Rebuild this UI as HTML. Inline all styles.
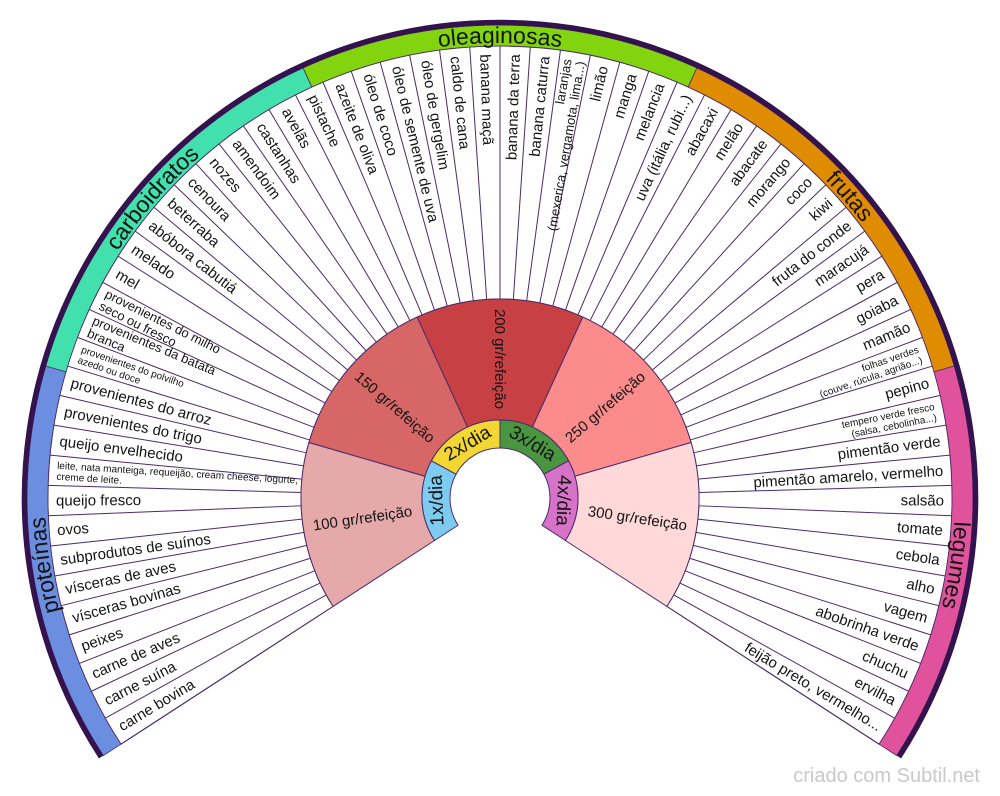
<!DOCTYPE html>
<html><head><meta charset="utf-8"><style>
html,body{margin:0;padding:0;background:#fff;}
svg{display:block;}
text{font-family:"Liberation Sans",Arial,sans-serif;fill:#141414;}
.it{font-size:15px;}
.s13{font-size:13px;}
.s10{font-size:10px;}
.gr{font-size:15px;}
.xd{font-size:19px;}
.cat{font-size:23px;}
.ln line{stroke:#4b2a6b;stroke-width:1;}
</style></head><body>
<svg width="1000" height="796" viewBox="0 0 1000 796" xmlns="http://www.w3.org/2000/svg">
<defs>
<path id="carc" d="M310.59,84.30 A455,455 0 0 1 689.41,84.30"/>
</defs>

<!-- item ring -->
<path d="M333.11,606.38 L120.92,744.18 A452,452 0 1 1 879.08,744.18 L666.89,606.38 A199,199 0 1 0 333.11,606.38 Z" fill="#fff" stroke="#4b2a6b" stroke-width="1"/>

<g class="ln">
<line x1="500" y1="299" x2="500" y2="46" transform="rotate(-123 500 498)"/>
<line x1="500" y1="299" x2="500" y2="46" transform="rotate(-119.15625 500 498)"/>
<line x1="500" y1="299" x2="500" y2="46" transform="rotate(-115.3125 500 498)"/>
<line x1="500" y1="299" x2="500" y2="46" transform="rotate(-111.46875 500 498)"/>
<line x1="500" y1="299" x2="500" y2="46" transform="rotate(-107.625 500 498)"/>
<line x1="500" y1="299" x2="500" y2="46" transform="rotate(-103.78125 500 498)"/>
<line x1="500" y1="299" x2="500" y2="46" transform="rotate(-99.9375 500 498)"/>
<line x1="500" y1="299" x2="500" y2="46" transform="rotate(-96.09375 500 498)"/>
<line x1="500" y1="299" x2="500" y2="46" transform="rotate(-92.25 500 498)"/>
<line x1="500" y1="299" x2="500" y2="46" transform="rotate(-88.40625 500 498)"/>
<line x1="500" y1="299" x2="500" y2="46" transform="rotate(-84.5625 500 498)"/>
<line x1="500" y1="299" x2="500" y2="46" transform="rotate(-80.71875 500 498)"/>
<line x1="500" y1="299" x2="500" y2="46" transform="rotate(-76.875 500 498)"/>
<line x1="500" y1="299" x2="500" y2="46" transform="rotate(-73.03125 500 498)"/>
<line x1="500" y1="299" x2="500" y2="46" transform="rotate(-69.1875 500 498)"/>
<line x1="500" y1="299" x2="500" y2="46" transform="rotate(-65.34375 500 498)"/>
<line x1="500" y1="299" x2="500" y2="46" transform="rotate(-61.5 500 498)"/>
<line x1="500" y1="299" x2="500" y2="46" transform="rotate(-57.65625 500 498)"/>
<line x1="500" y1="299" x2="500" y2="46" transform="rotate(-53.8125 500 498)"/>
<line x1="500" y1="299" x2="500" y2="46" transform="rotate(-49.96875 500 498)"/>
<line x1="500" y1="299" x2="500" y2="46" transform="rotate(-46.125 500 498)"/>
<line x1="500" y1="299" x2="500" y2="46" transform="rotate(-42.28125 500 498)"/>
<line x1="500" y1="299" x2="500" y2="46" transform="rotate(-38.4375 500 498)"/>
<line x1="500" y1="299" x2="500" y2="46" transform="rotate(-34.59375 500 498)"/>
<line x1="500" y1="299" x2="500" y2="46" transform="rotate(-30.75 500 498)"/>
<line x1="500" y1="299" x2="500" y2="46" transform="rotate(-26.90625 500 498)"/>
<line x1="500" y1="299" x2="500" y2="46" transform="rotate(-23.0625 500 498)"/>
<line x1="500" y1="299" x2="500" y2="46" transform="rotate(-19.21875 500 498)"/>
<line x1="500" y1="299" x2="500" y2="46" transform="rotate(-15.375 500 498)"/>
<line x1="500" y1="299" x2="500" y2="46" transform="rotate(-11.53125 500 498)"/>
<line x1="500" y1="299" x2="500" y2="46" transform="rotate(-7.6875 500 498)"/>
<line x1="500" y1="299" x2="500" y2="46" transform="rotate(-3.84375 500 498)"/>
<line x1="500" y1="299" x2="500" y2="46"/>
<line x1="500" y1="299" x2="500" y2="46" transform="rotate(3.84375 500 498)"/>
<line x1="500" y1="299" x2="500" y2="46" transform="rotate(7.6875 500 498)"/>
<line x1="500" y1="299" x2="500" y2="46" transform="rotate(11.53125 500 498)"/>
<line x1="500" y1="299" x2="500" y2="46" transform="rotate(15.375 500 498)"/>
<line x1="500" y1="299" x2="500" y2="46" transform="rotate(19.21875 500 498)"/>
<line x1="500" y1="299" x2="500" y2="46" transform="rotate(23.0625 500 498)"/>
<line x1="500" y1="299" x2="500" y2="46" transform="rotate(26.90625 500 498)"/>
<line x1="500" y1="299" x2="500" y2="46" transform="rotate(30.75 500 498)"/>
<line x1="500" y1="299" x2="500" y2="46" transform="rotate(34.59375 500 498)"/>
<line x1="500" y1="299" x2="500" y2="46" transform="rotate(38.4375 500 498)"/>
<line x1="500" y1="299" x2="500" y2="46" transform="rotate(42.28125 500 498)"/>
<line x1="500" y1="299" x2="500" y2="46" transform="rotate(46.125 500 498)"/>
<line x1="500" y1="299" x2="500" y2="46" transform="rotate(49.96875 500 498)"/>
<line x1="500" y1="299" x2="500" y2="46" transform="rotate(53.8125 500 498)"/>
<line x1="500" y1="299" x2="500" y2="46" transform="rotate(57.65625 500 498)"/>
<line x1="500" y1="299" x2="500" y2="46" transform="rotate(61.5 500 498)"/>
<line x1="500" y1="299" x2="500" y2="46" transform="rotate(65.34375 500 498)"/>
<line x1="500" y1="299" x2="500" y2="46" transform="rotate(69.1875 500 498)"/>
<line x1="500" y1="299" x2="500" y2="46" transform="rotate(73.03125 500 498)"/>
<line x1="500" y1="299" x2="500" y2="46" transform="rotate(76.875 500 498)"/>
<line x1="500" y1="299" x2="500" y2="46" transform="rotate(80.71875 500 498)"/>
<line x1="500" y1="299" x2="500" y2="46" transform="rotate(84.5625 500 498)"/>
<line x1="500" y1="299" x2="500" y2="46" transform="rotate(88.40625 500 498)"/>
<line x1="500" y1="299" x2="500" y2="46" transform="rotate(92.25 500 498)"/>
<line x1="500" y1="299" x2="500" y2="46" transform="rotate(96.09375 500 498)"/>
<line x1="500" y1="299" x2="500" y2="46" transform="rotate(99.9375 500 498)"/>
<line x1="500" y1="299" x2="500" y2="46" transform="rotate(103.78125 500 498)"/>
<line x1="500" y1="299" x2="500" y2="46" transform="rotate(107.625 500 498)"/>
<line x1="500" y1="299" x2="500" y2="46" transform="rotate(111.46875 500 498)"/>
<line x1="500" y1="299" x2="500" y2="46" transform="rotate(115.3125 500 498)"/>
<line x1="500" y1="299" x2="500" y2="46" transform="rotate(119.15625 500 498)"/>
<line x1="500" y1="299" x2="500" y2="46" transform="rotate(123 500 498)"/>
</g>

<!-- gr/refeicao ring -->
<g stroke="#4b2a6b" stroke-width="1">
<path d="M500,420 L500,299 A199,199 0 0 1 650.64,367.97 L559.05,447.03 A78,78 0 0 0 500,420 Z" fill="#e5a9a9" transform="rotate(-123 500 498)"/>
<path d="M500,420 L500,299 A199,199 0 0 1 650.64,367.97 L559.05,447.03 A78,78 0 0 0 500,420 Z" fill="#d76666" transform="rotate(-73.8 500 498)"/>
<path d="M500,420 L500,299 A199,199 0 0 1 650.64,367.97 L559.05,447.03 A78,78 0 0 0 500,420 Z" fill="#c74043" transform="rotate(-24.6 500 498)"/>
<path d="M500,420 L500,299 A199,199 0 0 1 650.64,367.97 L559.05,447.03 A78,78 0 0 0 500,420 Z" fill="#fc8c8c" transform="rotate(24.6 500 498)"/>
<path d="M500,420 L500,299 A199,199 0 0 1 650.64,367.97 L559.05,447.03 A78,78 0 0 0 500,420 Z" fill="#ffd9d9" transform="rotate(73.8 500 498)"/>
</g>

<!-- x/dia ring -->
<g stroke="#4b2a6b" stroke-width="1">
<path d="M500,448 L500,420 A78,78 0 0 1 568.55,460.78 L543.94,474.14 A50,50 0 0 0 500,448 Z" fill="#7ecbf2" transform="rotate(-123 500 498)"/>
<path d="M500,448 L500,420 A78,78 0 0 1 568.55,460.78 L543.94,474.14 A50,50 0 0 0 500,448 Z" fill="#f2d633" transform="rotate(-61.5 500 498)"/>
<path d="M500,448 L500,420 A78,78 0 0 1 568.55,460.78 L543.94,474.14 A50,50 0 0 0 500,448 Z" fill="#4a9640"/>
<path d="M500,448 L500,420 A78,78 0 0 1 568.55,460.78 L543.94,474.14 A50,50 0 0 0 500,448 Z" fill="#d672c8" transform="rotate(61.5 500 498)"/>
</g>

<!-- category band -->
<g stroke="#4b2a6b" stroke-width="0.8">
<path d="M500,46 L500,25 A473,473 0 0 1 858.06,188.93 L842.16,202.65 A452,452 0 0 0 500,46 Z" fill="#6b8ee0" transform="rotate(-123 500 498)"/>
<path d="M500,46 L500,25 A473,473 0 0 1 858.06,188.93 L842.16,202.65 A452,452 0 0 0 500,46 Z" fill="#42e0ac" transform="rotate(-73.8 500 498)"/>
<path d="M500,46 L500,25 A473,473 0 0 1 858.06,188.93 L842.16,202.65 A452,452 0 0 0 500,46 Z" fill="#82d40e" transform="rotate(-24.6 500 498)"/>
<path d="M500,46 L500,25 A473,473 0 0 1 858.06,188.93 L842.16,202.65 A452,452 0 0 0 500,46 Z" fill="#e08c00" transform="rotate(24.6 500 498)"/>
<path d="M500,46 L500,25 A473,473 0 0 1 858.06,188.93 L842.16,202.65 A452,452 0 0 0 500,46 Z" fill="#e0529c" transform="rotate(73.8 500 498)"/>
</g>

<!-- outer border -->
<path d="M101.21,756.98 A475.5,475.5 0 1 1 898.79,756.98" fill="none" stroke="#34124e" stroke-width="5.5"/>

<!-- category labels -->
<text class="cat" text-anchor="middle" transform="rotate(-98.4 500 498)"><textPath href="#carc" startOffset="50%">proteínas</textPath></text>
<text class="cat" text-anchor="middle" transform="rotate(-49.2 500 498)"><textPath href="#carc" startOffset="50%">carboidratos</textPath></text>
<text class="cat" text-anchor="middle"><textPath href="#carc" startOffset="50%">oleaginosas</textPath></text>
<text class="cat" text-anchor="middle" transform="rotate(49.2 500 498)"><textPath href="#carc" startOffset="50%">frutas</textPath></text>
<text class="cat" text-anchor="middle" transform="rotate(98.4 500 498)"><textPath href="#carc" startOffset="50%">legumes</textPath></text>

<!-- gr labels -->
<text class="gr" text-anchor="middle" y="5" transform="rotate(-98.4 500 498) translate(500 359) rotate(90)">100 gr/refeição</text>
<text class="gr" text-anchor="middle" y="5" transform="rotate(-49.2 500 498) translate(500 359) rotate(90)">150 gr/refeição</text>
<text class="gr" text-anchor="middle" y="5" transform="translate(500 359) rotate(90)">200 gr/refeição</text>
<text class="gr" text-anchor="middle" y="5" transform="rotate(49.2 500 498) translate(500 359) rotate(-90)">250 gr/refeição</text>
<text class="gr" text-anchor="middle" y="5" transform="rotate(98.4 500 498) translate(500 359) rotate(-90)">300 gr/refeição</text>

<!-- x/dia labels -->
<text class="xd" text-anchor="middle" x="500" y="440.5" transform="rotate(-92.25 500 498)">1x/dia</text>
<text class="xd" text-anchor="middle" x="500" y="440.5" transform="rotate(-30.75 500 498)">2x/dia</text>
<text class="xd" text-anchor="middle" x="500" y="440.5" transform="rotate(30.75 500 498)">3x/dia</text>
<text class="xd" text-anchor="middle" x="500" y="440.5" transform="rotate(92.25 500 498)">4x/dia</text>

<!-- left items -->
<g class="it">
<text y="5" transform="rotate(-121.078 500 498) translate(500 54) rotate(90)">carne bovina</text>
<text y="5" transform="rotate(-117.234 500 498) translate(500 54) rotate(90)">carne suína</text>
<text y="5" transform="rotate(-113.391 500 498) translate(500 54) rotate(90)">carne de aves</text>
<text y="5" transform="rotate(-109.547 500 498) translate(500 54) rotate(90)">peixes</text>
<text y="5" transform="rotate(-105.703 500 498) translate(500 54) rotate(90)">vísceras bovinas</text>
<text y="5" transform="rotate(-101.859 500 498) translate(500 54) rotate(90)">vísceras de aves</text>
<text y="5" transform="rotate(-98.016 500 498) translate(500 54) rotate(90)">subprodutos de suínos</text>
<text y="5" transform="rotate(-94.172 500 498) translate(500 54) rotate(90)">ovos</text>
<text y="5" transform="rotate(-90.328 500 498) translate(500 54) rotate(90)">queijo fresco</text>
<text class="s10" transform="rotate(-86.484 500 498) translate(500 54) rotate(90)"><tspan x="0" y="-2">leite, nata manteiga, requeijão, cream cheese, iogurte,</tspan><tspan x="0" y="9">creme de leite.</tspan></text>
<text y="5" transform="rotate(-82.641 500 498) translate(500 54) rotate(90)">queijo envelhecido</text>
<text y="5" transform="rotate(-78.797 500 498) translate(500 54) rotate(90)">provenientes do trigo</text>
<text y="5" transform="rotate(-74.953 500 498) translate(500 54) rotate(90)">provenientes do arroz</text>
<text class="s10" transform="rotate(-71.109 500 498) translate(500 54) rotate(90)"><tspan x="0" y="-2">provenientes do polvilho</tspan><tspan x="0" y="9">azedo ou doce</tspan></text>
<text class="s13" transform="rotate(-67.266 500 498) translate(500 54) rotate(90)"><tspan x="0" y="-2.5">provenientes da batata</tspan><tspan x="0" y="11">branca</tspan></text>
<text class="s13" transform="rotate(-63.422 500 498) translate(500 54) rotate(90)"><tspan x="0" y="-2.5">provenientes do milho</tspan><tspan x="0" y="11">seco ou fresco</tspan></text>
<text y="5" transform="rotate(-59.578 500 498) translate(500 54) rotate(90)">mel</text>
<text y="5" transform="rotate(-55.734 500 498) translate(500 54) rotate(90)">melado</text>
<text y="5" transform="rotate(-51.891 500 498) translate(500 54) rotate(90)">abóbora cabutiá</text>
<text y="5" transform="rotate(-48.047 500 498) translate(500 54) rotate(90)">beterraba</text>
<text y="5" transform="rotate(-44.203 500 498) translate(500 54) rotate(90)">cenoura</text>
<text y="5" transform="rotate(-40.359 500 498) translate(500 54) rotate(90)">nozes</text>
<text y="5" transform="rotate(-36.516 500 498) translate(500 54) rotate(90)">amendoim</text>
<text y="5" transform="rotate(-32.672 500 498) translate(500 54) rotate(90)">castanhas</text>
<text y="5" transform="rotate(-28.828 500 498) translate(500 54) rotate(90)">avelãs</text>
<text y="5" transform="rotate(-24.984 500 498) translate(500 54) rotate(90)">pistache</text>
<text y="5" transform="rotate(-21.141 500 498) translate(500 54) rotate(90)">azeite de oliva</text>
<text y="5" transform="rotate(-17.297 500 498) translate(500 54) rotate(90)">óleo de coco</text>
<text y="5" transform="rotate(-13.453 500 498) translate(500 54) rotate(90)">óleo de semente de uva</text>
<text y="5" transform="rotate(-9.609 500 498) translate(500 54) rotate(90)">óleo de gergelim</text>
<text y="5" transform="rotate(-5.766 500 498) translate(500 54) rotate(90)">caldo de cana</text>
<text y="5" transform="rotate(-1.922 500 498) translate(500 54) rotate(90)">banana maçã</text>
</g>

<!-- right items -->
<g class="it" text-anchor="end">
<text y="5" transform="rotate(1.922 500 498) translate(500 54) rotate(-90)">banana da terra</text>
<text y="5" transform="rotate(5.766 500 498) translate(500 54) rotate(-90)">banana caturra</text>
<text class="s13" transform="rotate(9.609 500 498) translate(500 54) rotate(-90)"><tspan x="0" y="-2.5">laranjas</tspan><tspan x="0" y="11">(mexerica, vergamota, lima...)</tspan></text>
<text y="5" transform="rotate(13.453 500 498) translate(500 54) rotate(-90)">limão</text>
<text y="5" transform="rotate(17.297 500 498) translate(500 54) rotate(-90)">manga</text>
<text y="5" transform="rotate(21.141 500 498) translate(500 54) rotate(-90)">melancia</text>
<text y="5" transform="rotate(24.984 500 498) translate(500 54) rotate(-90)">uva (itália, rubi...)</text>
<text y="5" transform="rotate(28.828 500 498) translate(500 54) rotate(-90)">abacaxi</text>
<text y="5" transform="rotate(32.672 500 498) translate(500 54) rotate(-90)">melão</text>
<text y="5" transform="rotate(36.516 500 498) translate(500 54) rotate(-90)">abacate</text>
<text y="5" transform="rotate(40.359 500 498) translate(500 54) rotate(-90)">morango</text>
<text y="5" transform="rotate(44.203 500 498) translate(500 54) rotate(-90)">coco</text>
<text y="5" transform="rotate(48.047 500 498) translate(500 54) rotate(-90)">kiwi</text>
<text y="5" transform="rotate(51.891 500 498) translate(500 54) rotate(-90)">fruta do conde</text>
<text y="5" transform="rotate(55.734 500 498) translate(500 54) rotate(-90)">maracujá</text>
<text y="5" transform="rotate(59.578 500 498) translate(500 54) rotate(-90)">pera</text>
<text y="5" transform="rotate(63.422 500 498) translate(500 54) rotate(-90)">goiaba</text>
<text y="5" transform="rotate(67.266 500 498) translate(500 54) rotate(-90)">mamão</text>
<text class="s10" transform="rotate(71.109 500 498) translate(500 54) rotate(-90)"><tspan x="0" y="-2">folhas verdes</tspan><tspan x="0" y="9">(couve, rúcula, agrião...)</tspan></text>
<text y="5" transform="rotate(74.953 500 498) translate(500 54) rotate(-90)">pepino</text>
<text class="s10" transform="rotate(78.797 500 498) translate(500 54) rotate(-90)"><tspan x="0" y="-2">tempero verde fresco</tspan><tspan x="0" y="9">(salsa, cebolinha...)</tspan></text>
<text y="5" transform="rotate(82.641 500 498) translate(500 54) rotate(-90)">pimentão verde</text>
<text y="5" transform="rotate(86.484 500 498) translate(500 54) rotate(-90)">pimentão amarelo, vermelho</text>
<text y="5" transform="rotate(90.328 500 498) translate(500 54) rotate(-90)">salsão</text>
<text y="5" transform="rotate(94.172 500 498) translate(500 54) rotate(-90)">tomate</text>
<text y="5" transform="rotate(98.016 500 498) translate(500 54) rotate(-90)">cebola</text>
<text y="5" transform="rotate(101.859 500 498) translate(500 54) rotate(-90)">alho</text>
<text y="5" transform="rotate(105.703 500 498) translate(500 54) rotate(-90)">vagem</text>
<text y="5" transform="rotate(109.547 500 498) translate(500 54) rotate(-90)">abobrinha verde</text>
<text y="5" transform="rotate(113.391 500 498) translate(500 54) rotate(-90)">chuchu</text>
<text y="5" transform="rotate(117.234 500 498) translate(500 54) rotate(-90)">ervilha</text>
<text y="5" transform="rotate(121.078 500 498) translate(500 54) rotate(-90)">feijão preto, vermelho...</text>
</g>

<text x="980" y="782" text-anchor="end" style="font-size:20px;fill:#c9c9c9;">criado com Subtil.net</text>
</svg>
</body></html>
